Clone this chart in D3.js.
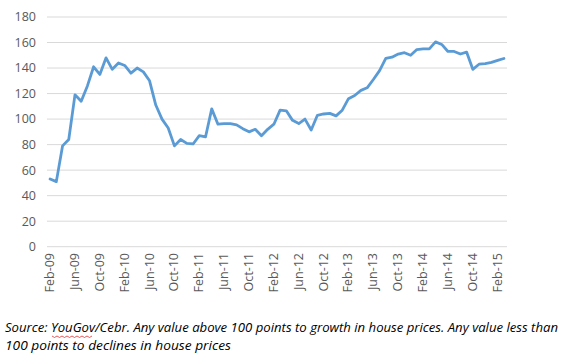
<!DOCTYPE html>
<html><head><meta charset="utf-8">
<script src="https://cdn.jsdelivr.net/npm/d3@7"></script>
<style>body{margin:0;background:#fff}svg{display:block}</style>
</head><body>
<svg id="c" width="566" height="360"></svg>
<script>
const months = ["Jan","Feb","Mar","Apr","May","Jun","Jul","Aug","Sep","Oct","Nov","Dec"];
const startYear = 2009, startMonth = 1; // Feb-09
const values = [53,51,79,84,119,114,126,141,135,148,139,144,142,136,140,137,130,111,100,93,
  79,84,81,80.5,87,86,108,96,96.5,96.5,95.5,92.5,90,92,87,92,96,107,106.5,99,
  96.5,100,91.5,103,104,104.5,102.5,107,116,118.5,122.5,124.5,131,138,147.5,148.5,151,152,150,154.5,
  155,155,160.5,158.5,153,153,151,152.5,139,143,143.5,144.5,146,147.5];
const categories = values.map((v,i)=>{const m=(startMonth+i)%12, y=startYear+Math.floor((startMonth+i)/12);return months[m]+"-"+String(y%100).padStart(2,"0");});
const yTicks = [0,20,40,60,80,100,120,140,160,180];
const caption = ["Source: YouGov/Cebr. Any value above 100 points to growth in house prices. Any value less than",
                 "100 points to declines in house prices"];

const svg = d3.select("#c");
const L=47, R=507, T=17, B=246.7;
const x = d3.scaleBand().domain(categories).range([L,R]);
const y = d3.scaleLinear().domain([0,180]).range([B,T]);

svg.append("g").selectAll("line").data(yTicks).join("line")
  .attr("x1",L).attr("x2",R).attr("y1",d=>y(d)).attr("y2",d=>y(d))
  .attr("stroke","#d9d9d9").attr("stroke-width",1);

svg.append("g").selectAll("text").data(yTicks).join("text")
  .attr("x",36).attr("y",d=>y(d)).attr("dy","0.35em").attr("text-anchor","end")
  .attr("font-family","Open Sans, sans-serif").attr("font-size",12.5).attr("fill","#595959")
  .text(d=>d);

const xt = categories.filter((c,i)=>i%4===0);
svg.append("g").selectAll("text").data(xt).join("text")
  .attr("transform",d=>`translate(${x(d)+x.bandwidth()/2+4},253) rotate(-90)`)
  .attr("text-anchor","end")
  .attr("font-family","Open Sans, sans-serif").attr("font-size",12.5).attr("fill","#595959")
  .text(d=>d);

const line = d3.line().x((d,i)=>x(categories[i])+x.bandwidth()/2).y(d=>y(d));
svg.append("path").datum(values).attr("d",line).attr("fill","none")
  .attr("stroke","#5b9bd5").attr("stroke-width",2.8).attr("stroke-linejoin","round").attr("stroke-linecap","round");

const cap = svg.append("g").attr("font-family","Open Sans, sans-serif").attr("font-style","italic")
  .attr("font-size",12.5).attr("fill","#000");
cap.append("text").attr("x",5).attr("y",332).attr("textLength",553).attr("lengthAdjust","spacingAndGlyphs").text(caption[0]);
cap.append("text").attr("x",5).attr("y",350).attr("textLength",226).attr("lengthAdjust","spacingAndGlyphs").text(caption[1]);
// spell-check wavy underline under "YouGov"
let zz="M52,336";for(let i=0;i<16;i++){zz+=` L${52+(i+1)*2.5},${336+(i%2?0:1.5)}`;}
svg.append("path").attr("d",zz).attr("fill","none").attr("stroke","#e03030").attr("stroke-width",0.8);
</script>
</body></html>
